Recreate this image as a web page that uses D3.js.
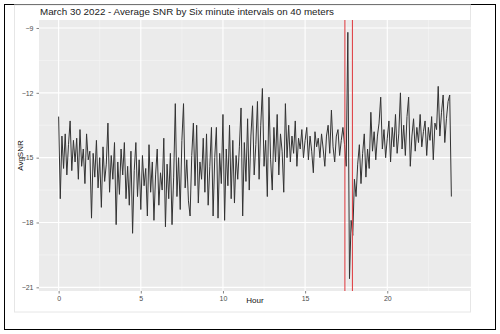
<!DOCTYPE html>
<html>
<head>
<meta charset="utf-8">
<script src="https://cdn.jsdelivr.net/npm/d3@7"></script>
<style>
  body { margin: 0; background: #fff; }
  text { font-family: "Liberation Sans", Arial, sans-serif; }
</style>
</head>
<body>
<svg id="chart" width="500" height="334"></svg>
<script>
// average SNR per six minute interval, one row per hour (10 values each)
var snrByHour = [
  [-13.1,-16.9,-14.0,-15.5,-13.9,-15.8,-14.4,-13.3,-15.6,-14.2],
  [-15.2,-14.1,-16.0,-13.7,-15.4,-14.6,-16.2,-13.9,-15.1,-14.7],
  [-17.8,-14.8,-15.9,-14.2,-16.4,-15.0,-17.3,-14.5,-16.1,-15.3],
  [-13.4,-16.6,-14.9,-16.0,-14.3,-18.1,-15.2,-16.7,-14.6,-15.8],
  [-14.3,-16.9,-15.4,-17.2,-14.7,-18.5,-15.6,-14.3,-16.8,-15.1],
  [-17.4,-14.9,-16.3,-15.5,-17.7,-14.4,-16.6,-15.2,-17.9,-15.8],
  [-14.6,-17.2,-15.7,-16.5,-14.1,-18.2,-15.3,-16.9,-14.8,-18.1],
  [-15.9,-12.5,-16.8,-15.0,-17.4,-14.2,-12.5,-16.4,-15.1,-17.0],
  [-17.7,-14.9,-13.4,-16.3,-13.5,-17.1,-15.2,-16.0,-14.1,-16.6],
  [-13.9,-17.2,-15.4,-13.6,-17.7,-15.0,-13.6,-17.8,-14.8,-16.2],
  [-13.0,-17.9,-14.6,-16.3,-13.5,-16.9,-14.2,-17.1,-14.9,-16.0],
  [-14.5,-12.7,-17.7,-14.3,-16.1,-13.2,-16.5,-14.0,-12.6,-15.8],
  [-14.4,-12.4,-16.0,-13.5,-11.8,-15.4,-14.2,-16.8,-12.2,-15.1],
  [-16.5,-13.6,-15.2,-13.0,-15.8,-13.9,-14.7,-16.6,-12.5,-15.0],
  [-13.5,-15.2,-14.0,-14.8,-13.3,-15.4,-14.1,-14.6,-13.7,-15.0],
  [-14.2,-13.6,-15.1,-14.0,-14.7,-15.7,-13.8,-14.5,-14.1,-15.0],
  [-13.9,-14.6,-15.4,-14.0,-13.5,-14.8,-12.8,-14.5,-15.2,-14.0],
  [-13.7,-14.9,-14.2,-13.6,-14.4,-15.4,-9.2,-20.6,-17.9,-18.6],
  [-16.0,-16.8,-15.3,-14.4,-16.2,-14.8,-13.9,-15.9,-14.6,-15.5],
  [-12.9,-14.7,-13.8,-15.1,-14.0,-13.4,-12.2,-14.6,-13.7,-15.0],
  [-14.1,-13.3,-15.2,-13.6,-14.5,-13.0,-14.8,-13.9,-12.0,-14.6],
  [-13.5,-14.9,-13.1,-12.2,-15.4,-14.0,-13.2,-14.7,-13.6,-14.3],
  [-13.0,-14.5,-13.8,-13.3,-14.9,-13.6,-14.2,-13.1,-15.1,-13.4],
  [-13.7,-11.7,-14.0,-12.9,-12.1,-14.3,-13.2,-12.4,-12.1,-16.8]
];
var markerHours = [17.42, 17.88];
var xTicks = [0, 5, 10, 15, 20];
var yTicks = [-21, -18, -15, -12, -9];

var title = "March 30 2022 - Average SNR by Six minute intervals on 40 meters";

var data = [];
snrByHour.forEach(function(row, h){
  row.forEach(function(v, i){
    data.push({hour: h + i / 10, snr: v});
  });
});

var svg = d3.select("#chart");

// page frame like the pasted screenshot
svg.append("rect")
  .attr("x", 4.5).attr("y", 4.5)
  .attr("width", 491).attr("height", 325)
  .attr("fill", "#fff")
  .attr("stroke", "#000")
  .attr("stroke-width", 1);

svg.append("rect")
  .attr("x", 14.5).attr("y", 5)
  .attr("width", 456).attr("height", 307)
  .attr("fill", "#fff")
  .attr("stroke", "#e6e6e6")
  .attr("stroke-width", 1);

// panel box (window.top is read-only, so keep these in an object)
var panel = {left: 39, right: 471, top: 20, bottom: 291};

function expand(ext){
  var pad = (ext[1] - ext[0]) * 0.05;
  return [ext[0] - pad, ext[1] + pad];
}

var x = d3.scaleLinear()
  .domain(expand(d3.extent(data, function(d){ return d.hour; })))
  .range([panel.left, panel.right]);

var y = d3.scaleLinear()
  .domain(expand(d3.extent(data, function(d){ return d.snr; })))
  .range([panel.bottom, panel.top]);

svg.append("rect")
  .attr("x", panel.left).attr("y", panel.top)
  .attr("width", panel.right - panel.left).attr("height", panel.bottom - panel.top)
  .attr("fill", "#ebebeb");

var xMinor = xTicks.map(function(t){ return t + 2.5; }).filter(function(t){ return x(t) < panel.right; });
var yMinor = yTicks.slice(0, -1).map(function(t){ return t + 1.5; });

var grid = svg.append("g");
grid.selectAll("line.xminor").data(xMinor).enter().append("line")
  .attr("x1", x).attr("x2", x).attr("y1", panel.top).attr("y2", panel.bottom)
  .attr("stroke", "#f7f7f7").attr("stroke-width", 0.6);
grid.selectAll("line.yminor").data(yMinor).enter().append("line")
  .attr("x1", panel.left).attr("x2", panel.right).attr("y1", y).attr("y2", y)
  .attr("stroke", "#f7f7f7").attr("stroke-width", 0.6);
grid.selectAll("line.xmajor").data(xTicks).enter().append("line")
  .attr("x1", x).attr("x2", x).attr("y1", panel.top).attr("y2", panel.bottom)
  .attr("stroke", "#fff").attr("stroke-width", 1.1);
grid.selectAll("line.ymajor").data(yTicks).enter().append("line")
  .attr("x1", panel.left).attr("x2", panel.right).attr("y1", y).attr("y2", y)
  .attr("stroke", "#fff").attr("stroke-width", 1.1);

var line = d3.line()
  .x(function(d){ return x(d.hour); })
  .y(function(d){ return y(d.snr); });

svg.append("path")
  .datum(data)
  .attr("d", line)
  .attr("fill", "none")
  .attr("stroke", "#333")
  .attr("stroke-width", 1)
  .attr("stroke-linejoin", "round");

svg.selectAll("line.marker").data(markerHours).enter().append("line")
  .attr("x1", x).attr("x2", x).attr("y1", panel.top).attr("y2", panel.bottom)
  .attr("stroke", "#e0474c").attr("stroke-width", 1.1);

// axes
var xAxis = d3.axisBottom(x).tickValues(xTicks).tickSize(2.5).tickPadding(3);
var yAxis = d3.axisLeft(y).tickValues(yTicks).tickSize(2.5).tickPadding(3);

var gx = svg.append("g").attr("transform", "translate(0," + panel.bottom + ")").call(xAxis);
var gy = svg.append("g").attr("transform", "translate(" + panel.left + ",0)").call(yAxis);
[gx, gy].forEach(function(g){
  g.select(".domain").remove();
  g.selectAll(".tick line").attr("stroke", "#333").attr("stroke-width", 0.6);
  g.selectAll(".tick text")
    .attr("fill", "#4d4d4d")
    .style("font-size", "7px")
    .style("font-family", "Liberation Sans, Arial, sans-serif");
});

svg.append("text")
  .attr("x", panel.left + 1).attr("y", 15)
  .attr("fill", "#222")
  .style("font-size", "9.8px")
  .text(title);

svg.append("text")
  .attr("x", (panel.left + panel.right) / 2).attr("y", 303)
  .attr("text-anchor", "middle")
  .attr("fill", "#111")
  .style("font-size", "8px")
  .text("Hour");

svg.append("text")
  .attr("transform", "translate(23," + ((panel.top + panel.bottom) / 2) + ") rotate(-90)")
  .attr("text-anchor", "middle")
  .attr("fill", "#111")
  .style("font-size", "8px")
  .text("AvgSNR");
</script>
</body>
</html>
